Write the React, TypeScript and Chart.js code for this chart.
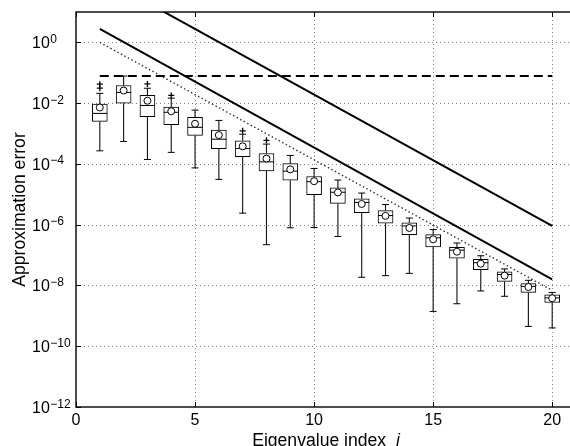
import React, { useEffect, useRef } from "react";
import { Chart, registerables } from "chart.js";

Chart.register(...registerables);

// ---- data ----
const indices = [1, 2, 3, 4, 5, 6, 7, 8, 9, 10, 11, 12, 13, 14, 15, 16, 17, 18, 19, 20];
const q1 = [2.5e-3, 1.0e-2, 3.6e-3, 1.95e-3, 8.7e-4, 3.2e-4, 1.74e-4, 5.9e-5, 2.9e-5, 9.8e-6, 5.0e-6, 2.5e-6, 1.12e-6, 4.7e-7, 1.86e-7, 7.9e-8, 3.3e-8, 1.36e-8, 5.9e-9, 2.75e-9];
const medians = [4.6e-3, 2.25e-2, 8.4e-3, 5.0e-3, 1.6e-3, 6.5e-4, 3.2e-4, 1.17e-4, 5.8e-5, 2.6e-5, 1.17e-5, 5.4e-6, 2.0e-6, 9.1e-7, 3.7e-7, 1.45e-7, 5.6e-8, 2.3e-8, 9.3e-9, 3.9e-9];
const q3 = [9.3e-3, 3.8e-2, 1.8e-2, 7.4e-3, 3.4e-3, 1.3e-3, 5.8e-4, 2.2e-4, 1.02e-4, 3.85e-5, 1.62e-5, 7.1e-6, 2.9e-6, 1.15e-6, 4.7e-7, 1.8e-7, 7.2e-8, 2.8e-8, 1.15e-8, 4.9e-9];
const means = [7.2e-3, 2.6e-2, 1.2e-2, 5.4e-3, 2.1e-3, 8.9e-4, 3.8e-4, 1.5e-4, 6.6e-5, 2.7e-5, 1.15e-5, 4.8e-6, 1.95e-6, 7.8e-7, 3.3e-7, 1.29e-7, 5.2e-8, 2.1e-8, 8.9e-9, 3.8e-9];
const whiskerLow = [2.7e-4, 5.5e-4, 1.4e-4, 2.4e-4, 7.4e-5, 3.1e-5, 2.4e-6, 2.2e-7, 7.9e-7, 8.1e-7, 4.1e-7, 1.86e-8, 2.1e-8, 2.5e-8, 1.4e-9, 2.5e-9, 6.6e-9, 4.4e-9, 4.5e-10, 4.0e-10];
const whiskerHigh = [2.1e-2, 7.8e-2, 3.1e-2, 1.46e-2, 5.9e-3, 2.7e-3, 9.5e-4, 4.5e-4, 1.9e-4, 7.1e-5, 2.95e-5, 1.1e-5, 4.6e-6, 1.66e-6, 6.9e-7, 2.5e-7, 9.5e-8, 3.5e-8, 1.48e-8, 5.9e-9];
const outlierX = [1, 1, 3, 4, 7, 8];
const outlierY = [3.1e-2, 4.2e-2, 4.3e-2, 1.8e-2, 1.23e-3, 6.0e-4];

const upperBoundX = [1, 20];
const upperBoundY = [148, 9.1e-7];
const lowerBoundX = [1, 20];
const lowerBoundY = [2.8, 1.58e-8];
const dashedX = [1, 20];
const dashedY = [0.078, 0.078];
const dottedX = [1, 20];
const dottedY = [1.0, 6.9e-9];

const xTicks = [0, 5, 10, 15, 20];
const yTickExponents = [0, -2, -4, -6, -8, -10, -12];
const xTitle = "Eigenvalue index ";
const xTitleItalic = "i";
const yTitle = "Approximation error";

// ---- style constants ----
const FONT = "'Liberation Sans', Arial, Helvetica, sans-serif";
const TICK_PX = 16;
const SUP_PX = 12;
const TITLE_PX = 17.6;

const pts = (xs: number[], ys: number[]) => xs.map((x, i) => ({ x, y: ys[i] }));

const whiskerData: any[] = [];
indices.forEach((x, i) => {
  whiskerData.push({ x, y: whiskerLow[i] }, { x, y: q1[i] }, { x, y: null });
  whiskerData.push({ x, y: q3[i] }, { x, y: whiskerHigh[i] }, { x, y: null });
});
const capData: any[] = [];
indices.forEach((x, i) => {
  capData.push({ x, y: whiskerLow[i] }, { x, y: whiskerHigh[i] });
});

const decorPlugin = {
  id: "decor",
  beforeDatasetsDraw(chart: any) {
    const { ctx, chartArea: a, scales } = chart;
    const x = scales.x;
    const y = scales.y;
    ctx.save();
    ctx.strokeStyle = "rgba(0,0,0,0.5)";
    ctx.lineWidth = 1;
    ctx.setLineDash([1, 3]);
    xTicks.forEach((v) => {
      if (v === 0) return;
      const px = Math.round(x.getPixelForValue(v)) + 0.5;
      ctx.beginPath();
      ctx.moveTo(px, a.top);
      ctx.lineTo(px, a.bottom);
      ctx.stroke();
    });
    yTickExponents.forEach((e) => {
      if (e === -12) return;
      const py = Math.round(y.getPixelForValue(Math.pow(10, e))) + 0.5;
      ctx.beginPath();
      ctx.moveTo(a.left, py);
      ctx.lineTo(a.right, py);
      ctx.stroke();
    });
    ctx.restore();
  },
  afterDraw(chart: any) {
    const { ctx, chartArea: a, scales } = chart;
    const x = scales.x;
    const y = scales.y;
    ctx.save();
    // frame
    ctx.strokeStyle = "#000";
    ctx.lineWidth = 1.4;
    ctx.setLineDash([]);
    ctx.strokeRect(a.left, a.top, a.right - a.left, a.bottom - a.top);
    // inward tick marks
    ctx.lineWidth = 1;
    xTicks.forEach((v) => {
      const px = Math.round(x.getPixelForValue(v)) + 0.5;
      ctx.beginPath();
      ctx.moveTo(px, a.bottom);
      ctx.lineTo(px, a.bottom - 5);
      ctx.moveTo(px, a.top);
      ctx.lineTo(px, a.top + 5);
      ctx.stroke();
    });
    yTickExponents.forEach((e) => {
      const py = Math.round(y.getPixelForValue(Math.pow(10, e))) + 0.5;
      ctx.beginPath();
      ctx.moveTo(a.left, py);
      ctx.lineTo(a.left + 5, py);
      ctx.stroke();
    });
    ctx.fillStyle = "#000";
    // x tick labels
    ctx.font = `${TICK_PX}px ${FONT}`;
    ctx.textAlign = "center";
    ctx.textBaseline = "middle";
    xTicks.forEach((v) => {
      ctx.fillText(String(v), x.getPixelForValue(v), a.bottom + 14);
    });
    // y tick labels: 10^e
    yTickExponents.forEach((e) => {
      const py = y.getPixelForValue(Math.pow(10, e));
      ctx.font = `${TICK_PX}px ${FONT}`;
      ctx.textAlign = "left";
      ctx.textBaseline = "middle";
      const baseX = 32;
      ctx.fillText("10", baseX, py + 1.5);
      const w = ctx.measureText("10").width;
      ctx.font = `${SUP_PX}px ${FONT}`;
      ctx.textBaseline = "alphabetic";
      const expStr = e === 0 ? "0" : "\u2212" + String(-e);
      ctx.fillText(expStr, baseX + w + 0.5, py + 0.5);
    });
    // x title
    ctx.font = `${TITLE_PX}px ${FONT}`;
    ctx.textBaseline = "alphabetic";
    ctx.textAlign = "left";
    const w1 = ctx.measureText(xTitle + " ").width;
    ctx.font = `italic ${TITLE_PX}px ${FONT}`;
    const w2 = ctx.measureText(xTitleItalic).width;
    const cx = (a.left + a.right) / 2;
    const startX = cx - (w1 + w2) / 2;
    ctx.font = `${TITLE_PX}px ${FONT}`;
    ctx.fillText(xTitle + " ", startX, 445.5);
    ctx.font = `italic ${TITLE_PX}px ${FONT}`;
    ctx.fillText(xTitleItalic, startX + w1, 445.5);
    // y title
    ctx.save();
    ctx.translate(24.5, (a.top + a.bottom) / 2);
    ctx.rotate(-Math.PI / 2);
    ctx.font = `${TITLE_PX}px ${FONT}`;
    ctx.textAlign = "center";
    ctx.textBaseline = "alphabetic";
    ctx.fillText(yTitle, 0, 0);
    ctx.restore();
    ctx.restore();
  },
};

export default function App() {
  const ref = useRef<HTMLCanvasElement>(null);
  useEffect(() => {
    if (!ref.current) return;
    const chart = new Chart(ref.current, {
      type: "scatter",
      data: {
        datasets: [
          {
            type: "scatter",
            label: "mean",
            data: pts(indices, means),
            pointStyle: "circle",
            pointRadius: 3.5,
            pointBackgroundColor: "#fff",
            pointBorderColor: "#000",
            pointBorderWidth: 1,
            order: 0,
          } as any,
          {
            type: "scatter",
            label: "outliers",
            data: pts(outlierX, outlierY),
            pointStyle: "cross",
            pointRadius: 3,
            pointBorderColor: "#000",
            pointBorderWidth: 1.3,
            order: 1,
          } as any,
          {
            type: "scatter",
            label: "median",
            data: pts(indices, medians),
            pointStyle: "line",
            pointRadius: 7.5,
            pointBorderColor: "#000",
            pointBorderWidth: 1,
            order: 2,
          } as any,
          {
            type: "scatter",
            label: "caps",
            data: capData,
            pointStyle: "line",
            pointRadius: 3.5,
            pointBorderColor: "#000",
            pointBorderWidth: 1,
            order: 2,
          } as any,
          {
            type: "bar",
            label: "box",
            data: indices.map((x, i) => ({ x, y: [q1[i], q3[i]] })),
            backgroundColor: "#fff",
            borderColor: "#000",
            borderWidth: 1,
            borderSkipped: false,
            barThickness: 15,
            grouped: false,
            order: 3,
          } as any,
          {
            type: "line",
            label: "whiskers",
            data: whiskerData,
            borderColor: "#111",
            borderWidth: 1.1,
            pointRadius: 0,
            spanGaps: false,
            order: 4,
          } as any,
          {
            type: "line",
            label: "upper",
            data: pts(upperBoundX, upperBoundY),
            borderColor: "#000",
            borderWidth: 2,
            pointRadius: 0,
            order: 5,
          } as any,
          {
            type: "line",
            label: "lower",
            data: pts(lowerBoundX, lowerBoundY),
            borderColor: "#000",
            borderWidth: 2,
            pointRadius: 0,
            order: 5,
          } as any,
          {
            type: "line",
            label: "dashed",
            data: pts(dashedX, dashedY),
            borderColor: "#000",
            borderWidth: 2,
            borderDash: [9, 5],
            pointRadius: 0,
            order: 5,
          } as any,
          {
            type: "line",
            label: "dotted",
            data: pts(dottedX, dottedY),
            borderColor: "#333",
            borderWidth: 1.4,
            borderDash: [1.5, 2.5],
            pointRadius: 0,
            order: 5,
          } as any,
        ],
      },
      options: {
        animation: false,
        responsive: false,
        devicePixelRatio: 1,
        layout: { padding: { left: 0, top: 12, right: 24, bottom: 0 } },
        plugins: { legend: { display: false }, tooltip: { enabled: false } },
        scales: {
          x: {
            type: "linear",
            min: 0,
            max: 21,
            offset: false,
            grid: { display: false },
            border: { display: false },
            ticks: { display: false },
            afterFit: (s: any) => {
              s.height = 39;
            },
          },
          y: {
            type: "logarithmic",
            min: 1e-12,
            max: 10,
            grid: { display: false },
            border: { display: false },
            ticks: { display: false },
            afterFit: (s: any) => {
              s.width = 76;
            },
          },
        },
      } as any,
      plugins: [decorPlugin],
    });
    return () => chart.destroy();
  }, []);
  return (
    <div
      style={{
        position: "fixed",
        left: 0,
        top: 0,
        width: 570,
        height: 446,
        overflow: "hidden",
        background: "#fff",
      }}
    >
      <canvas ref={ref} width={600} height={446} style={{ display: "block", width: 600, height: 446 }} />
    </div>
  );
}
